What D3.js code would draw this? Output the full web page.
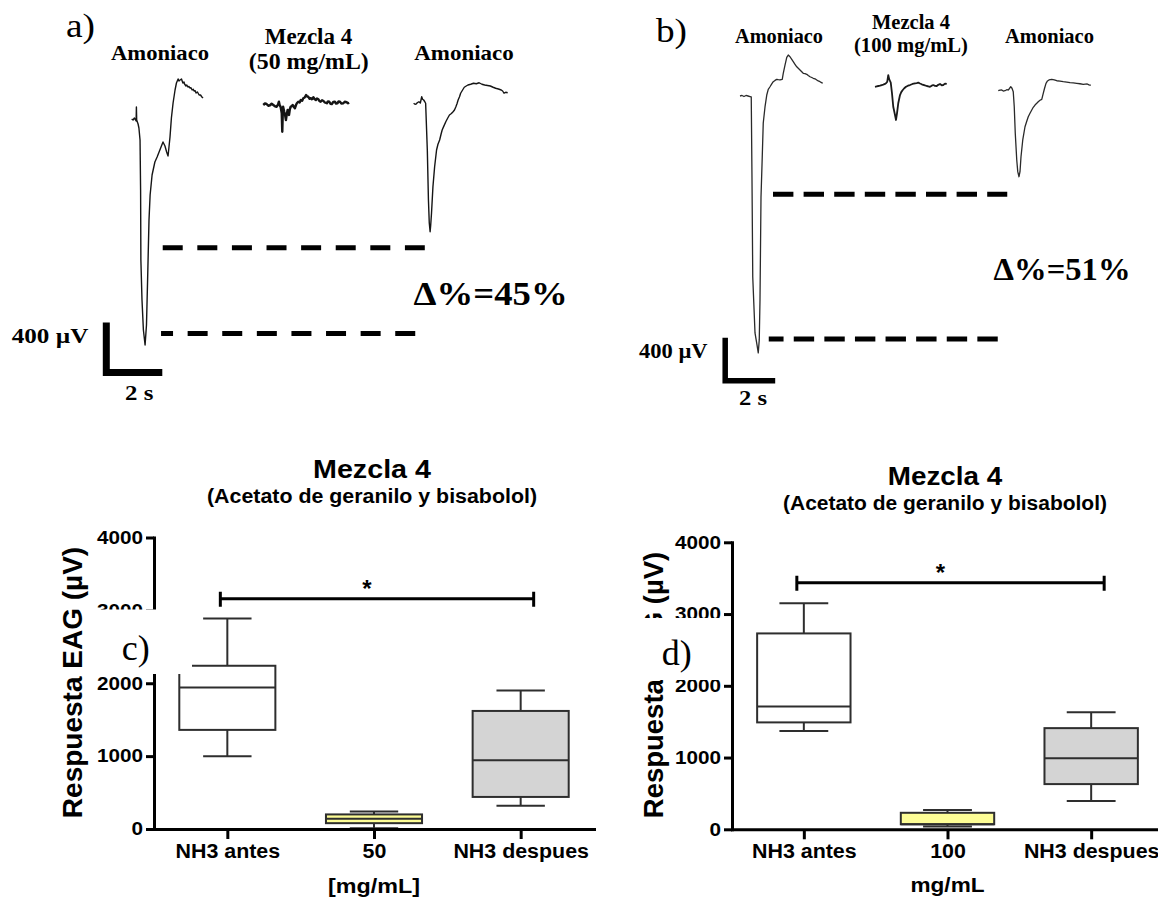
<!DOCTYPE html>
<html>
<head>
<meta charset="utf-8">
<script src="https://cdn.jsdelivr.net/npm/d3@7"></script>
<style>
  html, body { margin: 0; padding: 0; background: #fff; }
  svg { display: block; }
</style>
</head>
<body>
<svg id="fig" width="1158" height="901"></svg>
<script>
// ---------- EAG recordings: [time (s), amplitude (µV)] ----------
const recA_amon1 = [[1.13,-128],[1.18,-136],[1.23,-120],[1.29,-144],[1.30,-32],[1.31,-136],[1.36,-168],[1.39,-200],[1.43,-296],[1.45,-696],[1.46,-1256],[1.50,-1576],[1.55,-1816],[1.61,-1936],[1.66,-1776],[1.70,-1416],[1.75,-936],[1.79,-736],[1.86,-576],[1.96,-472],[2.04,-432],[2.11,-392],[2.18,-352],[2.25,-312],[2.32,-344],[2.38,-392],[2.43,-424],[2.46,-360],[2.50,-272],[2.55,-120],[2.61,0],[2.68,104],[2.73,160],[2.79,192],[2.82,176],[2.86,184],[2.91,192],[2.96,160],[3.00,168],[3.02,152],[3.07,136],[3.10,144],[3.14,128],[3.18,132],[3.21,120],[3.25,122],[3.29,104],[3.33,110],[3.36,96],[3.40,98],[3.43,80],[3.48,88],[3.54,64],[3.59,64],[3.64,48],[3.68,40]];
const recA_mix = [[5.83,-16],[5.89,-4],[5.95,-8],[6.01,-22],[6.07,-18],[6.13,-6],[6.19,-16],[6.25,-26],[6.31,-30],[6.36,-10],[6.39,10],[6.42,-20],[6.45,-30],[6.49,-80],[6.51,-230],[6.53,-60],[6.54,-30],[6.58,-70],[6.61,-96],[6.64,-136],[6.67,-90],[6.70,-56],[6.73,-84],[6.75,-96],[6.78,-50],[6.81,-30],[6.85,-24],[6.88,-16],[6.92,-30],[6.96,-42],[7.00,-16],[7.03,-2],[7.08,10],[7.13,4],[7.17,24],[7.22,18],[7.26,38],[7.31,44],[7.36,64],[7.40,52],[7.44,50],[7.48,34],[7.53,38],[7.57,30],[7.62,46],[7.66,32],[7.71,24],[7.75,36],[7.80,30],[7.84,14],[7.88,10],[7.93,22],[7.98,16],[8.03,4],[8.10,-2],[8.14,12],[8.19,10],[8.23,-6],[8.28,-8],[8.33,8],[8.39,10],[8.43,-4],[8.48,-2],[8.52,12],[8.57,10],[8.62,-4],[8.69,-2],[8.74,10],[8.81,6],[8.86,-2],[8.90,2]];
const recA_amon2 = [[11.20,-2],[11.25,-10],[11.29,-8],[11.34,4],[11.39,10],[11.44,0],[11.49,50],[11.52,30],[11.56,24],[11.60,10],[11.63,-2],[11.69,-376],[11.73,-776],[11.76,-960],[11.79,-1030],[11.81,-980],[11.84,-880],[11.89,-672],[11.95,-512],[12.02,-376],[12.07,-330],[12.13,-296],[12.18,-250],[12.22,-216],[12.28,-185],[12.35,-150],[12.42,-120],[12.48,-96],[12.55,-84],[12.61,-70],[12.66,-56],[12.71,-30],[12.75,-6],[12.79,24],[12.84,50],[12.88,78],[12.95,104],[13.01,126],[13.08,136],[13.14,144],[13.24,150],[13.34,158],[13.44,154],[13.54,162],[13.64,150],[13.74,144],[13.84,140],[13.94,136],[14.04,126],[14.13,118],[14.23,112],[14.33,104],[14.38,96],[14.43,78],[14.49,86],[14.56,82]];

const recB_amon1 = [[0.72,0],[0.80,5],[0.88,-5],[0.96,5],[1.04,0],[1.12,-5],[1.17,-9],[1.20,-781],[1.23,-1683],[1.32,-2204],[1.40,-2316],[1.45,-2390],[1.49,-2269],[1.52,-1897],[1.56,-939],[1.60,-642],[1.65,-251],[1.72,-102],[1.79,9],[1.85,62],[1.92,86],[1.99,112],[2.05,133],[2.12,145],[2.19,155],[2.25,152],[2.32,149],[2.41,155],[2.45,211],[2.52,288],[2.59,360],[2.65,381],[2.72,365],[2.79,340],[2.85,319],[2.92,295],[2.99,272],[3.05,258],[3.12,242],[3.19,225],[3.25,211],[3.32,208],[3.39,202],[3.45,190],[3.52,179],[3.59,172],[3.65,165],[3.72,160],[3.79,149],[3.85,140],[3.92,133],[3.98,125],[4.03,118]];
const recB_mix = [[6.12,86],[6.19,90],[6.25,93],[6.32,96],[6.39,102],[6.45,106],[6.52,112],[6.57,120],[6.61,133],[6.65,195],[6.69,155],[6.75,124],[6.80,25],[6.85,-100],[6.92,-177],[6.96,-223],[7.00,-161],[7.05,-68],[7.12,9],[7.17,36],[7.23,56],[7.29,72],[7.36,86],[7.44,96],[7.52,102],[7.62,112],[7.72,118],[7.79,120],[7.85,124],[7.92,116],[7.99,109],[8.05,104],[8.12,98],[8.19,93],[8.25,90],[8.32,86],[8.39,96],[8.45,102],[8.52,94],[8.59,93],[8.65,104],[8.72,112],[8.79,100],[8.85,102],[8.92,115],[8.99,112]];
const recB_amon2 = [[11.05,49],[11.12,54],[11.19,56],[11.25,46],[11.32,49],[11.39,58],[11.45,56],[11.50,70],[11.55,86],[11.60,72],[11.65,40],[11.69,-100],[11.73,-344],[11.79,-595],[11.83,-704],[11.88,-751],[11.92,-704],[11.96,-565],[12.03,-409],[12.12,-286],[12.19,-235],[12.25,-193],[12.32,-160],[12.39,-130],[12.45,-105],[12.52,-84],[12.59,-68],[12.65,-53],[12.72,-40],[12.79,-31],[12.85,25],[12.90,70],[12.96,118],[13.02,140],[13.08,149],[13.19,155],[13.29,150],[13.39,142],[13.52,138],[13.65,133],[13.79,130],[13.92,124],[14.05,122],[14.19,118],[14.32,114],[14.45,109],[14.61,112],[14.68,104],[14.75,100]];

// reference amplitude levels: [µV, start s, end s]
const levelsA = [[-1158, 2.24, 11.60], [-1843, 2.18, 11.60]];
const levelsB = [[-914, 2.04, 11.41], [-2260, 1.87, 11.26]];

// calibration bars: corner [s, µV]; each bar spans 2 s and 400 µV
const calA = [0.225, -2156];
const calB = [0.128, -2649];
const calSeconds = 2, calMicroV = 400;

// headings and amplitude change
const stimA = ["Amoniaco", "Mezcla 4", "(50 mg/mL)", "Amoniaco"];
const stimB = ["Amoniaco", "Mezcla 4", "(100 mg/mL)", "Amoniaco"];
const deltaA = 45, deltaB = 51;

// ---------- box plots: [min, Q1, median, Q3, max] in µV ----------
const catsC = ["NH3 antes", "50", "NH3 despues"];
const catsD = ["NH3 antes", "100", "NH3 despues"];
const statsC = [[1000, 1360, 1940, 2240, 2890], [10, 80, 140, 200, 240], [320, 440, 945, 1620, 1900]];
const statsD = [[1370, 1490, 1710, 2730, 3150], [40, 70, 70, 230, 270], [395, 630, 990, 1410, 1630]];
const yTicks = [0, 1000, 2000, 3000, 4000];
const sigC = { from: "NH3 antes", to: "NH3 despues", level: 3160, mark: "*" };
const sigD = { from: "NH3 antes", to: "NH3 despues", level: 3437, mark: "*" };

// ---------- drawing ----------
const svg = d3.select("#fig");
const serif = "'Liberation Serif','Times New Roman',serif";
const sans = "'Liberation Sans',Arial,sans-serif";

function fitWidth(sel, w) {
  sel.attr("textLength", w).attr("lengthAdjust", "spacingAndGlyphs");
}
function stretch(sel, sx) {
  sel.each(function () {
    const w = this.getComputedTextLength();
    d3.select(this).attr("textLength", w * sx).attr("lengthAdjust", "spacingAndGlyphs");
  });
}
function addText(parent, str, o) {
  const t = parent.append("text")
    .attr("x", o.x).attr("y", o.y)
    .attr("font-family", o.family || serif)
    .attr("font-weight", o.weight || "bold")
    .attr("font-size", o.size)
    .attr("text-anchor", o.anchor || "start")
    .attr("fill", "#000")
    .text(str);
  if (o.rotate) t.attr("transform", `rotate(${o.rotate},${o.x},${o.y})`);
  if (o.width) fitWidth(t, o.width);
  return t;
}

function eagPanel(p) {
  const g = svg.append("g");
  const x = d3.scaleLinear().domain([0, 10]).range([p.x0, p.x0 + 10 * p.pxPerSec]);
  const y = d3.scaleLinear().domain([0, -calMicroV]).range([p.y0, p.y0 + p.pxPer400]);
  const line = d3.line().x(d => x(d[0])).y(d => y(d[1]));

  p.traces.forEach(tr => {
    g.append("path")
      .attr("d", line(tr.data))
      .attr("fill", "none")
      .attr("stroke", tr.color)
      .attr("stroke-width", tr.w)
      .attr("stroke-linejoin", "round");
  });

  p.levels.forEach((lv, i) => {
    g.append("line")
      .attr("x1", x(lv[1])).attr("x2", x(lv[2]))
      .attr("y1", y(lv[0])).attr("y2", y(lv[0]))
      .attr("stroke", "#000")
      .attr("stroke-width", 5)
      .attr("stroke-dasharray", p.dash)
      .attr("stroke-dashoffset", p.dashOffsets[i]);
  });

  const [ct, cv] = p.cal;
  g.append("path")
    .attr("d", `M${x(ct)},${y(cv + calMicroV)}V${y(cv)}H${x(ct + calSeconds)}`)
    .attr("fill", "none")
    .attr("stroke", "#000")
    .attr("stroke-width", p.calW)
    .attr("stroke-linejoin", "miter");

  p.texts.forEach(t => addText(g, t.str, t));
}

eagPanel({
  x0: 100, pxPerSec: 28, y0: 103, pxPer400: 50,
  traces: [
    { data: recA_amon1, w: 1.4, color: "#151515" },
    { data: recA_mix, w: 2.4, color: "#151515" },
    { data: recA_amon2, w: 1.4, color: "#151515" }
  ],
  levels: levelsA, dash: "20,14.6", dashOffsets: [0, 8],
  cal: calA, calW: 7,
  texts: [
    { str: "a)", x: 66, y: 37, size: 33, weight: "normal", width: 29 },
    { str: stimA[0], x: 160, y: 59.5, size: 22, anchor: "middle", width: 98 },
    { str: stimA[1], x: 308.5, y: 43.5, size: 22.5, anchor: "middle", width: 87.5 },
    { str: stimA[2], x: 308.8, y: 69, size: 22.5, anchor: "middle", width: 120 },
    { str: stimA[3], x: 464, y: 60, size: 22, anchor: "middle", width: 99.5 },
    { str: `Δ%=${deltaA}%`, x: 413.6, y: 305, size: 34, width: 154 },
    { str: `${calMicroV} µV`, x: 11.7, y: 343, size: 22, width: 76.6 },
    { str: `${calSeconds} s`, x: 125, y: 400, size: 22, width: 28.3 }
  ]
});

eagPanel({
  x0: 722, pxPerSec: 25, y0: 96, pxPer400: 43,
  traces: [
    { data: recB_amon1, w: 1.3, color: "#2a2a2a" },
    { data: recB_mix, w: 1.8, color: "#1a1a1a" },
    { data: recB_amon2, w: 1.3, color: "#2a2a2a" }
  ],
  levels: levelsB, dash: "20.4,10.2", dashOffsets: [0, 5.6],
  cal: calB, calW: 5.5,
  texts: [
    { str: "b)", x: 656, y: 42, size: 33, weight: "normal", width: 31 },
    { str: stimB[0], x: 779, y: 42.7, size: 21, anchor: "middle", width: 88 },
    { str: stimB[1], x: 911, y: 29.3, size: 20.5, anchor: "middle", width: 78 },
    { str: stimB[2], x: 911, y: 52, size: 20.5, anchor: "middle", width: 114 },
    { str: stimB[3], x: 1049.5, y: 42.7, size: 21, anchor: "middle", width: 89 },
    { str: `Δ%=${deltaB}%`, x: 993.6, y: 280, size: 31, width: 137 },
    { str: `${calMicroV} µV`, x: 639, y: 358, size: 21, width: 68.6 },
    { str: `${calSeconds} s`, x: 739, y: 405, size: 22, width: 28 }
  ]
});

const boxFills = ["#ffffff", "#fdfd96", "#d4d4d4"];

function boxPanel(p) {
  const g = svg.append("g");
  const x = d3.scalePoint().domain(p.cats).range(p.xRange).padding(0.5);
  const y = d3.scaleLinear().domain([0, 4000]).range(p.yRange);
  const step = x.step();
  const bw = step * p.boxFrac, cw = step * p.capFrac;

  // boxes and whiskers
  p.stats.forEach((s, i) => {
    const cx = x(p.cats[i]);
    const [mn, q1, md, q3, mx] = s;
    const b = g.append("g").attr("stroke", "#2e2e2e").attr("stroke-width", 2);
    b.append("line").attr("x1", cx).attr("x2", cx).attr("y1", y(mx)).attr("y2", y(q3));
    b.append("line").attr("x1", cx).attr("x2", cx).attr("y1", y(q1)).attr("y2", y(mn));
    b.append("line").attr("x1", cx - cw / 2).attr("x2", cx + cw / 2).attr("y1", y(mx)).attr("y2", y(mx));
    b.append("line").attr("x1", cx - cw / 2).attr("x2", cx + cw / 2).attr("y1", y(mn)).attr("y2", y(mn));
    b.append("rect")
      .attr("x", cx - bw / 2).attr("y", y(q3))
      .attr("width", bw).attr("height", y(q1) - y(q3))
      .attr("fill", boxFills[i]);
    b.append("line").attr("x1", cx - bw / 2).attr("x2", cx + bw / 2).attr("y1", y(md)).attr("y2", y(md));
  });

  // axes
  const ya = g.append("g").attr("transform", `translate(${p.xRange[0]},0)`)
    .call(d3.axisLeft(y).tickValues(yTicks).tickFormat(d3.format("d")).tickSize(8).tickSizeOuter(0).tickPadding(3));
  const xa = g.append("g").attr("transform", `translate(0,${p.yRange[0]})`)
    .call(d3.axisBottom(x).tickSize(10).tickSizeOuter(0).tickPadding(5));
  [ya, xa].forEach(a => {
    a.attr("font-family", null).attr("font-size", null);
    a.selectAll(".domain, .tick line").attr("stroke", "#000").attr("stroke-width", 3);
    a.select(".domain").attr("stroke-linecap", "square");
    a.selectAll("text").attr("fill", "#000").attr("font-family", sans).attr("font-weight", "bold");
  });
  ya.selectAll("text").attr("font-size", 18);
  stretch(ya.selectAll("text"), 1.15);
  xa.selectAll("text").attr("font-size", 20);
  stretch(xa.selectAll("text"), 1.07);

  // titles
  addText(g, "Mezcla 4", { x: p.titleX, y: p.titleY, size: 25, family: sans, anchor: "middle", width: p.titleW });
  addText(g, "(Acetato de geranilo y bisabolol)", { x: p.titleX, y: p.titleY + 25.3, size: 19.5, family: sans, anchor: "middle", width: p.subW });
  addText(g, "Respuesta EAG (µV)", { x: p.yLabX, y: p.yLabY, size: p.yLabSize, family: sans, anchor: "middle", rotate: -90 });
  addText(g, p.xTitle, { x: x(p.cats[1]), y: p.xTitleY, size: 21, family: sans, anchor: "middle", width: p.xTitleW });

  // panel letter on a white patch
  g.append("rect").attr("x", p.patch[0]).attr("y", p.patch[1]).attr("width", p.patch[2]).attr("height", p.patch[3]).attr("fill", "#fff");
  addText(g, p.letter, { x: p.letterX, y: p.letterY, size: 36, weight: "normal" });

  // significance bracket
  const sg = p.sig;
  const x1 = x(sg.from) - 7, x2 = x(sg.to) + 13, ys = y(sg.level);
  g.append("path")
    .attr("d", `M${x1},${ys - 7}V${ys + 8}M${x1},${ys}H${x2}M${x2},${ys - 7}V${ys + 8}`)
    .attr("fill", "none").attr("stroke", "#000").attr("stroke-width", 3);
  addText(g, sg.mark, { x: x(p.cats[1]) - 7, y: ys - 2, size: 24, family: sans, anchor: "middle" });
}

boxPanel({
  cats: catsC, stats: statsC, sig: sigC,
  xRange: [154, 594], yRange: [829, 537.5], boxFrac: 0.655, capFrac: 0.33,
  titleX: 372, titleY: 478, titleW: 118, subW: 330,
  yLabX: 82, yLabY: 682.5, yLabSize: 28,
  xTitle: "[mg/mL]", xTitleY: 893, xTitleW: 92,
  patch: [92, 609.5, 100, 64.5], letter: "c)", letterX: 121.7, letterY: 660
});

boxPanel({
  cats: catsD, stats: statsD, sig: sigD,
  xRange: [732, 1163], yRange: [829.3, 542.3], boxFrac: 0.65, capFrac: 0.34,
  titleX: 945, titleY: 485, titleW: 114.5, subW: 324,
  yLabX: 663, yLabY: 685, yLabSize: 27.5,
  xTitle: "mg/mL", xTitleY: 892, xTitleW: 74,
  patch: [638, 618, 89, 62], letter: "d)", letterX: 661.7, letterY: 665
});
</script>
</body>
</html>
